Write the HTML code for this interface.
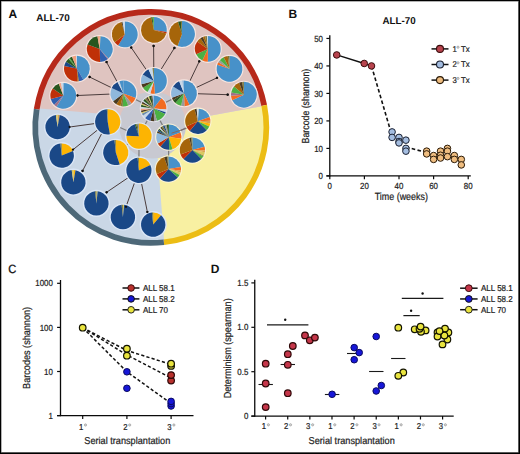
<!DOCTYPE html><html><head><meta charset="utf-8"><style>html,body{margin:0;padding:0;background:#fff;}svg{display:block;}text{font-family:"Liberation Sans",sans-serif;text-rendering:geometricPrecision;}text.r{stroke:#222;stroke-width:0.22px;}</style></head><body>
<svg width="520" height="454" viewBox="0 0 520 454">
<rect x="0" y="0" width="520" height="454" fill="#fff"/>
<defs><clipPath id="inner"><circle cx="150.8" cy="127.4" r="113.3"/></clipPath></defs>
<g clip-path="url(#inner)">
<rect x="0" y="0" width="300" height="260" fill="#cad7e6"/>
<polygon points="182.6,120.75 300,99.20 300,260 165.60,260 154.85,120.75" fill="#f8f0a2"/>
<polygon points="0,105.23 182.6,120.75 300,99.20 300,0 0,0" fill="#dfc4c0"/>
</g>
<circle cx="152.5" cy="125" r="33.5" fill="#c8c9d1"/>
<path d="M36.67,109.32A115.55000000000001,115.55000000000001 0 0 1 264.23,105.35" fill="none" stroke="#b7291a" stroke-width="5.7"/>
<path d="M264.23,105.35A115.55000000000001,115.55000000000001 0 0 1 163.88,242.21" fill="none" stroke="#ecbd14" stroke-width="5.7"/>
<path d="M163.88,242.21A115.55000000000001,115.55000000000001 0 0 1 36.67,109.32" fill="none" stroke="#4d6878" stroke-width="5.7"/>
<line x1="123.4" y1="93.5" x2="106.5" y2="62.0" stroke="#4a3c3c" stroke-width="1.0"/>
<circle cx="106.5" cy="62.0" r="1.15" fill="#111"/>
<line x1="123.4" y1="93.5" x2="89.6" y2="77.0" stroke="#4a3c3c" stroke-width="1.0"/>
<circle cx="89.6" cy="77.0" r="1.15" fill="#111"/>
<line x1="123.4" y1="93.5" x2="77.4" y2="95.5" stroke="#4a3c3c" stroke-width="1.0"/>
<circle cx="77.4" cy="95.5" r="1.15" fill="#111"/>
<line x1="153.9" y1="80.9" x2="131.2" y2="47.5" stroke="#4a3c3c" stroke-width="1.0"/>
<circle cx="131.2" cy="47.5" r="1.15" fill="#111"/>
<line x1="153.9" y1="80.9" x2="153.6" y2="46.0" stroke="#4a3c3c" stroke-width="1.0"/>
<circle cx="153.6" cy="46.0" r="1.15" fill="#111"/>
<line x1="153.9" y1="80.9" x2="174.4" y2="48.0" stroke="#4a3c3c" stroke-width="1.0"/>
<circle cx="174.4" cy="48.0" r="1.15" fill="#111"/>
<line x1="184.0" y1="93.3" x2="199.3" y2="61.3" stroke="#4a3c3c" stroke-width="1.0"/>
<circle cx="199.3" cy="61.3" r="1.15" fill="#111"/>
<line x1="184.0" y1="93.3" x2="217.0" y2="77.8" stroke="#4a3c3c" stroke-width="1.0"/>
<circle cx="217.0" cy="77.8" r="1.15" fill="#111"/>
<line x1="184.0" y1="93.3" x2="227.7" y2="94.7" stroke="#4a3c3c" stroke-width="1.0"/>
<circle cx="227.7" cy="94.7" r="1.15" fill="#111"/>
<line x1="107.7" y1="121.8" x2="69.7" y2="127.0" stroke="#4a3c3c" stroke-width="1.0"/>
<circle cx="69.7" cy="127.0" r="1.15" fill="#111"/>
<line x1="107.7" y1="121.8" x2="73.0" y2="149.7" stroke="#4a3c3c" stroke-width="1.0"/>
<circle cx="73.0" cy="149.7" r="1.15" fill="#111"/>
<line x1="107.7" y1="121.8" x2="82.5" y2="171.0" stroke="#4a3c3c" stroke-width="1.0"/>
<circle cx="82.5" cy="171.0" r="1.15" fill="#111"/>
<line x1="138.9" y1="170.4" x2="106.6" y2="192.3" stroke="#4a3c3c" stroke-width="1.0"/>
<circle cx="106.6" cy="192.3" r="1.15" fill="#111"/>
<line x1="138.9" y1="170.4" x2="126.0" y2="206.8" stroke="#4a3c3c" stroke-width="1.0"/>
<circle cx="126.0" cy="206.8" r="1.15" fill="#111"/>
<line x1="138.9" y1="170.4" x2="147.4" y2="212.1" stroke="#4a3c3c" stroke-width="1.0"/>
<circle cx="147.4" cy="212.1" r="1.15" fill="#111"/>
<line x1="153.6" y1="108.4" x2="123.4" y2="93.5" stroke="#7d7d7d" stroke-width="1.2"/>
<line x1="153.6" y1="108.4" x2="153.9" y2="80.9" stroke="#7d7d7d" stroke-width="1.2"/>
<line x1="153.6" y1="108.4" x2="184.0" y2="93.3" stroke="#7d7d7d" stroke-width="1.2"/>
<line x1="139.0" y1="136.2" x2="107.7" y2="121.8" stroke="#7d7d7d" stroke-width="1.2"/>
<line x1="139.0" y1="136.2" x2="115.8" y2="152.5" stroke="#7d7d7d" stroke-width="1.2"/>
<line x1="139.0" y1="136.2" x2="138.9" y2="170.4" stroke="#7d7d7d" stroke-width="1.2"/>
<line x1="168.8" y1="137.1" x2="197.8" y2="121.3" stroke="#7d7d7d" stroke-width="1.2"/>
<line x1="168.8" y1="137.1" x2="192.4" y2="150.1" stroke="#7d7d7d" stroke-width="1.2"/>
<line x1="168.8" y1="137.1" x2="168.4" y2="169.1" stroke="#7d7d7d" stroke-width="1.2"/>
<line x1="153.6" y1="108.4" x2="139.0" y2="136.2" stroke="#7d7d7d" stroke-width="1.2"/>
<line x1="153.6" y1="108.4" x2="168.8" y2="137.1" stroke="#7d7d7d" stroke-width="1.2"/>
<circle cx="63.3" cy="95.8" r="14.0" fill="#f6e6e2"/>
<path d="M63.30,95.80L63.30,82.90A12.9,12.9 0 1 1 56.46,106.74Z" fill="#4791c9"/>
<path d="M63.30,95.80L56.46,106.74A12.9,12.9 0 0 1 54.02,104.76Z" fill="#a07088"/>
<path d="M63.30,95.80L54.02,104.76A12.9,12.9 0 0 1 50.78,98.92Z" fill="#2f5fae"/>
<path d="M63.30,95.80L50.78,98.92A12.9,12.9 0 0 1 52.73,88.40Z" fill="#bf3008"/>
<path d="M63.30,95.80L52.73,88.40A12.9,12.9 0 0 1 58.89,83.68Z" fill="#28561f"/>
<path d="M63.30,95.80L58.89,83.68A12.9,12.9 0 0 1 61.06,83.10Z" fill="#f0a080"/>
<path d="M63.30,95.80L61.06,83.10A12.9,12.9 0 0 1 63.30,82.90Z" fill="#c8d8e8"/>
<circle cx="76.9" cy="68.6" r="14.0" fill="#f6e6e2"/>
<path d="M76.90,68.60L76.90,55.70A12.9,12.9 0 0 1 83.35,79.77Z" fill="#4791c9"/>
<path d="M76.90,68.60L83.35,79.77A12.9,12.9 0 0 1 78.70,81.37Z" fill="#2f5fae"/>
<path d="M76.90,68.60L78.70,81.37A12.9,12.9 0 0 1 77.35,81.49Z" fill="#a6650a"/>
<path d="M76.90,68.60L77.35,81.49A12.9,12.9 0 0 1 64.28,65.92Z" fill="#bf3008"/>
<path d="M76.90,68.60L64.28,65.92A12.9,12.9 0 0 1 65.96,61.76Z" fill="#1a4887"/>
<path d="M76.90,68.60L65.96,61.76A12.9,12.9 0 0 1 68.61,58.72Z" fill="#28561f"/>
<path d="M76.90,68.60L68.61,58.72A12.9,12.9 0 0 1 69.69,57.91Z" fill="#4bb043"/>
<path d="M76.90,68.60L69.69,57.91A12.9,12.9 0 0 1 72.07,56.64Z" fill="#28561f"/>
<path d="M76.90,68.60L72.07,56.64A12.9,12.9 0 0 1 76.00,55.73Z" fill="#f0a080"/>
<path d="M76.90,68.60L76.00,55.73A12.9,12.9 0 0 1 76.90,55.70Z" fill="#c8d8e8"/>
<circle cx="99.7" cy="49.0" r="14.0" fill="#f6e6e2"/>
<path d="M99.70,49.00L99.70,36.10A12.9,12.9 0 0 1 100.60,36.13Z" fill="#d9a34f"/>
<path d="M99.70,49.00L100.60,36.13A12.9,12.9 0 0 1 108.33,58.59Z" fill="#4791c9"/>
<path d="M99.70,49.00L108.33,58.59A12.9,12.9 0 0 1 107.64,59.17Z" fill="#a07088"/>
<path d="M99.70,49.00L107.64,59.17A12.9,12.9 0 0 1 100.15,61.89Z" fill="#2f5fae"/>
<path d="M99.70,49.00L100.15,61.89A12.9,12.9 0 0 1 87.58,44.59Z" fill="#bf3008"/>
<path d="M99.70,49.00L87.58,44.59A12.9,12.9 0 0 1 97.46,36.30Z" fill="#28561f"/>
<path d="M99.70,49.00L97.46,36.30A12.9,12.9 0 0 1 99.70,36.10Z" fill="#f0a080"/>
<circle cx="124.8" cy="34.4" r="14.0" fill="#f6e6e2"/>
<path d="M124.80,34.40L124.80,21.50A12.9,12.9 0 1 1 118.16,45.46Z" fill="#4791c9"/>
<path d="M124.80,34.40L118.16,45.46A12.9,12.9 0 0 1 114.63,42.34Z" fill="#bf3008"/>
<path d="M124.80,34.40L114.63,42.34A12.9,12.9 0 0 1 121.46,21.94Z" fill="#a6650a"/>
<path d="M124.80,34.40L121.46,21.94A12.9,12.9 0 0 1 122.56,21.70Z" fill="#4a3a20"/>
<path d="M124.80,34.40L122.56,21.70A12.9,12.9 0 0 1 124.80,21.50Z" fill="#c8d8e8"/>
<circle cx="153.9" cy="29.9" r="14.0" fill="#f6e6e2"/>
<path d="M153.90,29.90L153.90,17.00A12.9,12.9 0 0 1 166.64,31.92Z" fill="#4791c9"/>
<path d="M153.90,29.90L166.64,31.92A12.9,12.9 0 0 1 166.30,33.46Z" fill="#bf3008"/>
<path d="M153.90,29.90L166.30,33.46A12.9,12.9 0 1 1 151.22,17.28Z" fill="#a6650a"/>
<path d="M153.90,29.90L151.22,17.28A12.9,12.9 0 0 1 152.55,17.07Z" fill="#28561f"/>
<path d="M153.90,29.90L152.55,17.07A12.9,12.9 0 0 1 153.90,17.00Z" fill="#4bb043"/>
<circle cx="182.0" cy="34.0" r="14.0" fill="#f6e6e2"/>
<path d="M182.00,34.00L182.00,21.10A12.9,12.9 0 1 1 177.59,46.12Z" fill="#4791c9"/>
<path d="M182.00,34.00L177.59,46.12A12.9,12.9 0 0 1 178.01,21.73Z" fill="#a6650a"/>
<path d="M182.00,34.00L178.01,21.73A12.9,12.9 0 0 1 180.88,21.15Z" fill="#28561f"/>
<path d="M182.00,34.00L180.88,21.15A12.9,12.9 0 0 1 182.00,21.10Z" fill="#7a7838"/>
<circle cx="207.8" cy="48.9" r="14.0" fill="#f6e6e2"/>
<path d="M207.80,48.90L207.80,36.00A12.9,12.9 0 0 1 207.80,61.80Z" fill="#4791c9"/>
<path d="M207.80,48.90L207.80,61.80A12.9,12.9 0 0 1 202.35,60.59Z" fill="#f26b21"/>
<path d="M207.80,48.90L202.35,60.59A12.9,12.9 0 0 1 196.11,54.35Z" fill="#4bb043"/>
<path d="M207.80,48.90L196.11,54.35A12.9,12.9 0 0 1 197.23,41.50Z" fill="#bf3008"/>
<path d="M207.80,48.90L197.23,41.50A12.9,12.9 0 0 1 200.40,38.33Z" fill="#a6650a"/>
<path d="M207.80,48.90L200.40,38.33A12.9,12.9 0 0 1 202.97,36.94Z" fill="#4a3a20"/>
<path d="M207.80,48.90L202.97,36.94A12.9,12.9 0 0 1 205.12,36.28Z" fill="#a6650a"/>
<path d="M207.80,48.90L205.12,36.28A12.9,12.9 0 0 1 206.90,36.03Z" fill="#7a7838"/>
<path d="M207.80,48.90L206.90,36.03A12.9,12.9 0 0 1 207.80,36.00Z" fill="#c8d8e8"/>
<circle cx="229.5" cy="68.8" r="14.0" fill="#f6e6e2"/>
<path d="M229.50,68.80L229.50,55.90A12.9,12.9 0 1 1 217.23,64.81Z" fill="#4791c9"/>
<path d="M229.50,68.80L217.23,64.81A12.9,12.9 0 0 1 218.33,62.35Z" fill="#f26b21"/>
<path d="M229.50,68.80L218.33,62.35A12.9,12.9 0 0 1 219.91,60.17Z" fill="#9a9a9a"/>
<path d="M229.50,68.80L219.91,60.17A12.9,12.9 0 0 1 223.64,57.31Z" fill="#4bb043"/>
<path d="M229.50,68.80L223.64,57.31A12.9,12.9 0 0 1 227.70,56.03Z" fill="#a6650a"/>
<path d="M229.50,68.80L227.70,56.03A12.9,12.9 0 0 1 229.50,55.90Z" fill="#7a7838"/>
<circle cx="243.9" cy="94.7" r="14.0" fill="#f6e6e2"/>
<path d="M243.90,94.70L243.90,81.80A12.9,12.9 0 1 1 232.21,100.15Z" fill="#4791c9"/>
<path d="M243.90,94.70L232.21,100.15A12.9,12.9 0 0 1 231.05,95.82Z" fill="#f26b21"/>
<path d="M243.90,94.70L231.05,95.82A12.9,12.9 0 0 1 231.20,92.46Z" fill="#a07088"/>
<path d="M243.90,94.70L231.20,92.46A12.9,12.9 0 0 1 234.02,86.41Z" fill="#4bb043"/>
<path d="M243.90,94.70L234.02,86.41A12.9,12.9 0 0 1 239.07,82.74Z" fill="#a6650a"/>
<path d="M243.90,94.70L239.07,82.74A12.9,12.9 0 0 1 242.33,81.90Z" fill="#4a3a20"/>
<path d="M243.90,94.70L242.33,81.90A12.9,12.9 0 0 1 243.90,81.80Z" fill="#7a7838"/>
<circle cx="123.4" cy="93.5" r="14.0" fill="#f6e6e2"/>
<path d="M123.40,93.50L123.40,80.60A12.9,12.9 0 0 1 135.52,97.91Z" fill="#4791c9"/>
<path d="M123.40,93.50L135.52,97.91A12.9,12.9 0 0 1 131.69,103.38Z" fill="#f26b21"/>
<path d="M123.40,93.50L131.69,103.38A12.9,12.9 0 0 1 128.23,105.46Z" fill="#9a9a9a"/>
<path d="M123.40,93.50L128.23,105.46A12.9,12.9 0 0 1 122.72,106.38Z" fill="#4bb043"/>
<path d="M123.40,93.50L122.72,106.38A12.9,12.9 0 0 1 120.50,106.07Z" fill="#7a7838"/>
<path d="M123.40,93.50L120.50,106.07A12.9,12.9 0 0 1 116.37,104.32Z" fill="#a6650a"/>
<path d="M123.40,93.50L116.37,104.32A12.9,12.9 0 0 1 113.10,101.26Z" fill="#4a3a20"/>
<path d="M123.40,93.50L113.10,101.26A12.9,12.9 0 0 1 111.71,88.05Z" fill="#8fb8dc"/>
<path d="M123.40,93.50L111.71,88.05A12.9,12.9 0 0 1 117.54,82.01Z" fill="#1a4887"/>
<path d="M123.40,93.50L117.54,82.01A12.9,12.9 0 0 1 119.41,81.23Z" fill="#c8d8e8"/>
<path d="M123.40,93.50L119.41,81.23A12.9,12.9 0 0 1 123.40,80.60Z" fill="#4791c9"/>
<circle cx="153.9" cy="80.9" r="14.0" fill="#f6e6e2"/>
<path d="M153.90,80.90L153.90,68.00A12.9,12.9 0 0 1 154.80,93.77Z" fill="#4791c9"/>
<path d="M153.90,80.90L154.80,93.77A12.9,12.9 0 0 1 150.34,93.30Z" fill="#f26b21"/>
<path d="M153.90,80.90L150.34,93.30A12.9,12.9 0 0 1 147.45,92.07Z" fill="#c8d8e8"/>
<path d="M153.90,80.90L147.45,92.07A12.9,12.9 0 0 1 142.96,87.74Z" fill="#4bb043"/>
<path d="M153.90,80.90L142.96,87.74A12.9,12.9 0 0 1 141.44,84.24Z" fill="#4a3a20"/>
<path d="M153.90,80.90L141.44,84.24A12.9,12.9 0 0 1 142.73,74.45Z" fill="#8fb8dc"/>
<path d="M153.90,80.90L142.73,74.45A12.9,12.9 0 0 1 148.45,69.21Z" fill="#1a4887"/>
<path d="M153.90,80.90L148.45,69.21A12.9,12.9 0 0 1 152.55,68.07Z" fill="#c8d8e8"/>
<path d="M153.90,80.90L152.55,68.07A12.9,12.9 0 0 1 153.90,68.00Z" fill="#7a7838"/>
<circle cx="184.0" cy="93.3" r="14.0" fill="#f6e6e2"/>
<path d="M184.00,93.30L184.00,80.40A12.9,12.9 0 0 1 189.45,104.99Z" fill="#4791c9"/>
<path d="M184.00,93.30L189.45,104.99A12.9,12.9 0 0 1 184.45,106.19Z" fill="#f26b21"/>
<path d="M184.00,93.30L184.45,106.19A12.9,12.9 0 0 1 181.10,105.87Z" fill="#9a9a9a"/>
<path d="M184.00,93.30L181.10,105.87A12.9,12.9 0 0 1 175.37,102.89Z" fill="#4bb043"/>
<path d="M184.00,93.30L175.37,102.89A12.9,12.9 0 0 1 173.06,100.14Z" fill="#28561f"/>
<path d="M184.00,93.30L173.06,100.14A12.9,12.9 0 0 1 171.88,97.71Z" fill="#4a3a20"/>
<path d="M184.00,93.30L171.88,97.71A12.9,12.9 0 0 1 173.06,86.46Z" fill="#8fb8dc"/>
<path d="M184.00,93.30L173.06,86.46A12.9,12.9 0 0 1 179.17,81.34Z" fill="#1a4887"/>
<path d="M184.00,93.30L179.17,81.34A12.9,12.9 0 0 1 182.20,80.53Z" fill="#c8d8e8"/>
<path d="M184.00,93.30L182.20,80.53A12.9,12.9 0 0 1 184.00,80.40Z" fill="#8fb8dc"/>
<circle cx="153.6" cy="108.4" r="13.8" fill="#e4e4ec"/>
<path d="M153.60,108.40L153.60,95.60A12.8,12.8 0 0 1 161.48,98.31Z" fill="#4791c9"/>
<path d="M153.60,108.40L161.48,98.31A12.8,12.8 0 0 1 166.35,109.52Z" fill="#f26b21"/>
<path d="M153.60,108.40L166.35,109.52A12.8,12.8 0 0 1 165.77,112.36Z" fill="#c8d8e8"/>
<path d="M153.60,108.40L165.77,112.36A12.8,12.8 0 0 1 165.10,114.01Z" fill="#1a4887"/>
<path d="M153.60,108.40L165.10,114.01A12.8,12.8 0 0 1 156.91,120.76Z" fill="#4bb043"/>
<path d="M153.60,108.40L156.91,120.76A12.8,12.8 0 0 1 154.05,121.19Z" fill="#9a9a9a"/>
<path d="M153.60,108.40L154.05,121.19A12.8,12.8 0 0 1 150.29,120.76Z" fill="#4a3a20"/>
<path d="M153.60,108.40L150.29,120.76A12.8,12.8 0 0 1 145.04,117.91Z" fill="#2f5fae"/>
<path d="M153.60,108.40L145.04,117.91A12.8,12.8 0 0 1 142.99,115.56Z" fill="#c8d8e8"/>
<path d="M153.60,108.40L142.99,115.56A12.8,12.8 0 0 1 141.91,113.61Z" fill="#6a8cb0"/>
<path d="M153.60,108.40L141.91,113.61A12.8,12.8 0 0 1 141.43,112.36Z" fill="#d8c860"/>
<path d="M153.60,108.40L141.43,112.36A12.8,12.8 0 0 1 140.99,110.62Z" fill="#4a3a20"/>
<path d="M153.60,108.40L140.99,110.62A12.8,12.8 0 0 1 140.80,108.40Z" fill="#f0a080"/>
<path d="M153.60,108.40L140.80,108.40A12.8,12.8 0 0 1 140.90,106.84Z" fill="#c8d8e8"/>
<path d="M153.60,108.40L140.90,106.84A12.8,12.8 0 0 1 141.36,104.66Z" fill="#28561f"/>
<path d="M153.60,108.40L141.36,104.66A12.8,12.8 0 0 1 141.82,103.40Z" fill="#d8c860"/>
<path d="M153.60,108.40L141.82,103.40A12.8,12.8 0 0 1 142.63,101.81Z" fill="#4a3a20"/>
<path d="M153.60,108.40L142.63,101.81A12.8,12.8 0 0 1 143.38,100.70Z" fill="#c8d8e8"/>
<path d="M153.60,108.40L143.38,100.70A12.8,12.8 0 0 1 144.87,99.04Z" fill="#28561f"/>
<path d="M153.60,108.40L144.87,99.04A12.8,12.8 0 0 1 146.26,97.91Z" fill="#7a7838"/>
<path d="M153.60,108.40L146.26,97.91A12.8,12.8 0 0 1 147.79,97.00Z" fill="#4a3a20"/>
<path d="M153.60,108.40L147.79,97.00A12.8,12.8 0 0 1 149.01,96.45Z" fill="#d8c860"/>
<path d="M153.60,108.40L149.01,96.45A12.8,12.8 0 0 1 151.16,95.84Z" fill="#28561f"/>
<path d="M153.60,108.40L151.16,95.84A12.8,12.8 0 0 1 152.48,95.65Z" fill="#4a3a20"/>
<path d="M153.60,108.40L152.48,95.65A12.8,12.8 0 0 1 153.60,95.60Z" fill="#8fb8dc"/>
<circle cx="107.7" cy="121.8" r="13.799999999999999" fill="#dfe8f5"/>
<path d="M107.70,121.80L107.70,109.20A12.6,12.6 0 0 1 109.89,134.21Z" fill="#fdb402"/>
<path d="M107.70,121.80L109.89,134.21A12.6,12.6 0 1 1 106.82,109.23Z" fill="#1a4887"/>
<path d="M107.70,121.80L106.82,109.23A12.6,12.6 0 0 1 107.70,109.20Z" fill="#7a7838"/>
<circle cx="139.0" cy="136.2" r="13.799999999999999" fill="#dfe8f5"/>
<path d="M139.00,136.20L139.00,123.60A12.6,12.6 0 1 1 126.41,135.76Z" fill="#fdb402"/>
<path d="M139.00,136.20L126.41,135.76A12.6,12.6 0 0 1 134.69,124.36Z" fill="#1a4887"/>
<path d="M139.00,136.20L134.69,124.36A12.6,12.6 0 0 1 136.17,123.92Z" fill="#28561f"/>
<path d="M139.00,136.20L136.17,123.92A12.6,12.6 0 0 1 137.68,123.67Z" fill="#7a7838"/>
<path d="M139.00,136.20L137.68,123.67A12.6,12.6 0 0 1 139.00,123.60Z" fill="#9a9a9a"/>
<circle cx="115.8" cy="152.5" r="13.799999999999999" fill="#dfe8f5"/>
<path d="M115.80,152.50L115.80,139.90A12.6,12.6 0 0 1 119.69,164.48Z" fill="#fdb402"/>
<path d="M115.80,152.50L119.69,164.48A12.6,12.6 0 1 1 114.48,139.97Z" fill="#1a4887"/>
<path d="M115.80,152.50L114.48,139.97A12.6,12.6 0 0 1 115.80,139.90Z" fill="#7a7838"/>
<circle cx="138.9" cy="170.4" r="13.799999999999999" fill="#dfe8f5"/>
<path d="M138.90,170.40L138.90,157.80A12.6,12.6 0 0 1 150.32,165.08Z" fill="#fdb402"/>
<path d="M138.90,170.40L150.32,165.08A12.6,12.6 0 1 1 137.58,157.87Z" fill="#1a4887"/>
<path d="M138.90,170.40L137.58,157.87A12.6,12.6 0 0 1 138.90,157.80Z" fill="#7a7838"/>
<circle cx="57.6" cy="127.0" r="13.6" fill="#dbe6f6"/>
<path d="M57.60,127.00L57.60,114.80A12.2,12.2 0 0 1 59.72,114.99Z" fill="#d9a34f"/>
<path d="M57.60,127.00L59.72,114.99A12.2,12.2 0 1 1 55.90,114.92Z" fill="#1a4887"/>
<path d="M57.60,127.00L55.90,114.92A12.2,12.2 0 0 1 57.60,114.80Z" fill="#d8c860"/>
<circle cx="61.7" cy="155.6" r="13.6" fill="#dbe6f6"/>
<path d="M61.70,155.60L61.70,143.40A12.2,12.2 0 0 1 73.01,151.03Z" fill="#fdb402"/>
<path d="M61.70,155.60L73.01,151.03A12.2,12.2 0 1 1 60.42,143.47Z" fill="#1a4887"/>
<path d="M61.70,155.60L60.42,143.47A12.2,12.2 0 0 1 61.70,143.40Z" fill="#7a7838"/>
<circle cx="73.4" cy="182.2" r="13.6" fill="#dbe6f6"/>
<path d="M73.40,182.20L73.40,170.00A12.2,12.2 0 0 1 75.52,170.19Z" fill="#fdb402"/>
<path d="M73.40,182.20L75.52,170.19A12.2,12.2 0 1 1 71.70,170.12Z" fill="#1a4887"/>
<path d="M73.40,182.20L71.70,170.12A12.2,12.2 0 0 1 73.40,170.00Z" fill="#d8c860"/>
<circle cx="96.4" cy="203.4" r="13.6" fill="#dbe6f6"/>
<path d="M96.40,203.40L96.40,191.20A12.2,12.2 0 0 1 97.68,191.27Z" fill="#d8c860"/>
<path d="M96.40,203.40L97.68,191.27A12.2,12.2 0 1 1 95.12,191.27Z" fill="#1a4887"/>
<path d="M96.40,203.40L95.12,191.27A12.2,12.2 0 0 1 96.40,191.20Z" fill="#7a7838"/>
<circle cx="122.9" cy="217.0" r="13.6" fill="#dbe6f6"/>
<path d="M122.90,217.00L122.90,204.80A12.2,12.2 0 0 1 124.18,204.87Z" fill="#d8c860"/>
<path d="M122.90,217.00L124.18,204.87A12.2,12.2 0 1 1 121.62,204.87Z" fill="#1a4887"/>
<path d="M122.90,217.00L121.62,204.87A12.2,12.2 0 0 1 122.90,204.80Z" fill="#7a7838"/>
<circle cx="153.2" cy="224.6" r="13.6" fill="#dbe6f6"/>
<path d="M153.20,224.60L153.20,212.40A12.2,12.2 0 0 1 161.04,215.25Z" fill="#fdb402"/>
<path d="M153.20,224.60L161.04,215.25A12.2,12.2 0 1 1 151.92,212.47Z" fill="#1a4887"/>
<path d="M153.20,224.60L151.92,212.47A12.2,12.2 0 0 1 153.20,212.40Z" fill="#7a7838"/>
<circle cx="168.8" cy="137.1" r="13.7" fill="#fbf3d8"/>
<path d="M168.80,137.10L168.80,124.50A12.6,12.6 0 0 1 180.48,132.38Z" fill="#4791c9"/>
<path d="M168.80,137.10L180.48,132.38A12.6,12.6 0 0 1 181.28,138.85Z" fill="#f26b21"/>
<path d="M168.80,137.10L181.28,138.85A12.6,12.6 0 0 1 172.48,149.15Z" fill="#fdb402"/>
<path d="M168.80,137.10L172.48,149.15A12.6,12.6 0 0 1 169.24,149.69Z" fill="#4bb043"/>
<path d="M168.80,137.10L169.24,149.69A12.6,12.6 0 0 1 160.37,146.46Z" fill="#1a4887"/>
<path d="M168.80,137.10L160.37,146.46A12.6,12.6 0 0 1 157.89,143.40Z" fill="#bf3008"/>
<path d="M168.80,137.10L157.89,143.40A12.6,12.6 0 0 1 156.96,132.79Z" fill="#8fb8dc"/>
<path d="M168.80,137.10L156.96,132.79A12.6,12.6 0 0 1 157.67,131.18Z" fill="#4a3a20"/>
<path d="M168.80,137.10L157.67,131.18A12.6,12.6 0 0 1 158.48,129.87Z" fill="#1a4887"/>
<path d="M168.80,137.10L158.48,129.87A12.6,12.6 0 0 1 159.44,128.67Z" fill="#28561f"/>
<path d="M168.80,137.10L159.44,128.67A12.6,12.6 0 0 1 160.37,127.74Z" fill="#c8d8e8"/>
<path d="M168.80,137.10L160.37,127.74A12.6,12.6 0 0 1 161.57,126.78Z" fill="#4a3a20"/>
<path d="M168.80,137.10L161.57,126.78A12.6,12.6 0 0 1 162.88,125.97Z" fill="#7a7838"/>
<path d="M168.80,137.10L162.88,125.97A12.6,12.6 0 0 1 164.49,125.26Z" fill="#1a4887"/>
<path d="M168.80,137.10L164.49,125.26A12.6,12.6 0 0 1 166.61,124.69Z" fill="#9a9a9a"/>
<path d="M168.80,137.10L166.61,124.69A12.6,12.6 0 0 1 168.80,124.50Z" fill="#28561f"/>
<circle cx="197.8" cy="121.3" r="13.7" fill="#fbf3d8"/>
<path d="M197.80,121.30L197.80,108.70A12.6,12.6 0 0 1 198.90,108.75Z" fill="#c8d8e8"/>
<path d="M197.80,121.30L198.90,108.75A12.6,12.6 0 0 1 209.64,116.99Z" fill="#4791c9"/>
<path d="M197.80,121.30L209.64,116.99A12.6,12.6 0 0 1 210.39,120.86Z" fill="#f26b21"/>
<path d="M197.80,121.30L210.39,120.86A12.6,12.6 0 0 1 210.21,123.49Z" fill="#d9a34f"/>
<path d="M197.80,121.30L210.21,123.49A12.6,12.6 0 0 1 209.22,126.62Z" fill="#fdb402"/>
<path d="M197.80,121.30L209.22,126.62A12.6,12.6 0 0 1 206.71,130.21Z" fill="#4bb043"/>
<path d="M197.80,121.30L206.71,130.21A12.6,12.6 0 0 1 189.70,130.95Z" fill="#1a4887"/>
<path d="M197.80,121.30L189.70,130.95A12.6,12.6 0 0 1 186.38,126.62Z" fill="#bf3008"/>
<path d="M197.80,121.30L186.38,126.62A12.6,12.6 0 0 1 194.54,109.13Z" fill="#a6650a"/>
<path d="M197.80,121.30L194.54,109.13A12.6,12.6 0 0 1 196.70,108.75Z" fill="#4a3a20"/>
<path d="M197.80,121.30L196.70,108.75A12.6,12.6 0 0 1 197.80,108.70Z" fill="#c8d8e8"/>
<circle cx="192.4" cy="150.1" r="13.7" fill="#fbf3d8"/>
<path d="M192.40,150.10L192.40,137.50A12.6,12.6 0 0 1 204.57,146.84Z" fill="#4791c9"/>
<path d="M192.40,150.10L204.57,146.84A12.6,12.6 0 0 1 204.99,150.54Z" fill="#f26b21"/>
<path d="M192.40,150.10L204.99,150.54A12.6,12.6 0 0 1 204.81,152.29Z" fill="#d9a34f"/>
<path d="M192.40,150.10L204.81,152.29A12.6,12.6 0 0 1 203.53,156.02Z" fill="#d8c860"/>
<path d="M192.40,150.10L203.53,156.02A12.6,12.6 0 0 1 203.20,156.59Z" fill="#4a3a20"/>
<path d="M192.40,150.10L203.20,156.59A12.6,12.6 0 0 1 201.31,159.01Z" fill="#4bb043"/>
<path d="M192.40,150.10L201.31,159.01A12.6,12.6 0 0 1 183.49,159.01Z" fill="#1a4887"/>
<path d="M192.40,150.10L183.49,159.01A12.6,12.6 0 0 1 180.56,154.41Z" fill="#bf3008"/>
<path d="M192.40,150.10L180.56,154.41A12.6,12.6 0 0 1 189.14,137.93Z" fill="#a6650a"/>
<path d="M192.40,150.10L189.14,137.93A12.6,12.6 0 0 1 191.30,137.55Z" fill="#4a3a20"/>
<path d="M192.40,150.10L191.30,137.55A12.6,12.6 0 0 1 192.40,137.50Z" fill="#7a7838"/>
<circle cx="168.4" cy="169.1" r="13.7" fill="#fbf3d8"/>
<path d="M168.40,169.10L168.40,156.50A12.6,12.6 0 0 1 180.81,166.91Z" fill="#4791c9"/>
<path d="M168.40,169.10L180.81,166.91A12.6,12.6 0 0 1 180.91,170.64Z" fill="#f26b21"/>
<path d="M168.40,169.10L180.91,170.64A12.6,12.6 0 0 1 180.51,172.57Z" fill="#d9a34f"/>
<path d="M168.40,169.10L180.51,172.57A12.6,12.6 0 0 1 179.53,175.02Z" fill="#d8c860"/>
<path d="M168.40,169.10L179.53,175.02A12.6,12.6 0 0 1 177.76,177.53Z" fill="#4bb043"/>
<path d="M168.40,169.10L177.76,177.53A12.6,12.6 0 0 1 159.97,178.46Z" fill="#1a4887"/>
<path d="M168.40,169.10L159.97,178.46A12.6,12.6 0 0 1 156.80,174.02Z" fill="#bf3008"/>
<path d="M168.40,169.10L156.80,174.02A12.6,12.6 0 0 1 164.09,157.26Z" fill="#a6650a"/>
<path d="M168.40,169.10L164.09,157.26A12.6,12.6 0 0 1 167.30,156.55Z" fill="#4a3a20"/>
<path d="M168.40,169.10L167.30,156.55A12.6,12.6 0 0 1 168.40,156.50Z" fill="#7a7838"/>
<line x1="171.5" y1="133.2" x2="186.5" y2="128.4" stroke="#7a6a6a" stroke-width="1.0"/>
<circle cx="106.5" cy="62.0" r="1.15" fill="#111"/>
<circle cx="89.6" cy="77.0" r="1.15" fill="#111"/>
<circle cx="77.4" cy="95.5" r="1.15" fill="#111"/>
<circle cx="131.2" cy="47.5" r="1.15" fill="#111"/>
<circle cx="153.6" cy="46.0" r="1.15" fill="#111"/>
<circle cx="174.4" cy="48.0" r="1.15" fill="#111"/>
<circle cx="199.3" cy="61.3" r="1.15" fill="#111"/>
<circle cx="217.0" cy="77.8" r="1.15" fill="#111"/>
<circle cx="227.7" cy="94.7" r="1.15" fill="#111"/>
<circle cx="69.7" cy="127.0" r="1.15" fill="#111"/>
<circle cx="73.0" cy="149.7" r="1.15" fill="#111"/>
<circle cx="82.5" cy="171.0" r="1.15" fill="#111"/>
<circle cx="106.6" cy="192.3" r="1.15" fill="#111"/>
<circle cx="126.0" cy="206.8" r="1.15" fill="#111"/>
<circle cx="147.4" cy="212.1" r="1.15" fill="#111"/>
<text x="8.4" y="17.6" font-size="12" font-weight="bold" fill="#111">A</text>
<text x="36.3" y="20.6" font-size="9.8" font-weight="bold" fill="#111" textLength="33.6" lengthAdjust="spacingAndGlyphs">ALL-70</text>
<text x="288.6" y="17.8" font-size="12" font-weight="bold" fill="#111">B</text>
<text x="382.5" y="24.1" font-size="10" font-weight="bold" fill="#111" textLength="33.2" lengthAdjust="spacingAndGlyphs">ALL-70</text>
<line x1="329.8" y1="35.2" x2="329.8" y2="176.5" stroke="#0a0a0a" stroke-width="1.3"/>
<line x1="326.40000000000003" y1="175.9" x2="470.80000000000007" y2="175.9" stroke="#0a0a0a" stroke-width="1.3"/>
<line x1="326.40000000000003" y1="175.9" x2="329.8" y2="175.9" stroke="#0a0a0a" stroke-width="1.2"/>
<text class="r" x="323.00" y="179.00" font-size="8.8" text-anchor="end" fill="#1e1e1e" textLength="4.40" lengthAdjust="spacingAndGlyphs">0</text>
<line x1="326.40000000000003" y1="148.41" x2="329.8" y2="148.41" stroke="#0a0a0a" stroke-width="1.2"/>
<text class="r" x="323.00" y="151.51" font-size="8.8" text-anchor="end" fill="#1e1e1e" textLength="8.81" lengthAdjust="spacingAndGlyphs">10</text>
<line x1="326.40000000000003" y1="120.92" x2="329.8" y2="120.92" stroke="#0a0a0a" stroke-width="1.2"/>
<text class="r" x="323.00" y="124.02" font-size="8.8" text-anchor="end" fill="#1e1e1e" textLength="8.81" lengthAdjust="spacingAndGlyphs">20</text>
<line x1="326.40000000000003" y1="93.43" x2="329.8" y2="93.43" stroke="#0a0a0a" stroke-width="1.2"/>
<text class="r" x="323.00" y="96.53" font-size="8.8" text-anchor="end" fill="#1e1e1e" textLength="8.81" lengthAdjust="spacingAndGlyphs">30</text>
<line x1="326.40000000000003" y1="65.94" x2="329.8" y2="65.94" stroke="#0a0a0a" stroke-width="1.2"/>
<text class="r" x="323.00" y="69.04" font-size="8.8" text-anchor="end" fill="#1e1e1e" textLength="8.81" lengthAdjust="spacingAndGlyphs">40</text>
<line x1="326.40000000000003" y1="38.44999999999999" x2="329.8" y2="38.44999999999999" stroke="#0a0a0a" stroke-width="1.2"/>
<text class="r" x="323.00" y="41.55" font-size="8.8" text-anchor="end" fill="#1e1e1e" textLength="8.81" lengthAdjust="spacingAndGlyphs">50</text>
<line x1="329.8" y1="175.9" x2="329.8" y2="179.3" stroke="#0a0a0a" stroke-width="1.2"/>
<text class="r" x="329.80" y="188.70" font-size="8.8" text-anchor="middle" fill="#1e1e1e" textLength="4.40" lengthAdjust="spacingAndGlyphs">0</text>
<line x1="364.40000000000003" y1="175.9" x2="364.40000000000003" y2="179.3" stroke="#0a0a0a" stroke-width="1.2"/>
<text class="r" x="364.40" y="188.70" font-size="8.8" text-anchor="middle" fill="#1e1e1e" textLength="8.81" lengthAdjust="spacingAndGlyphs">20</text>
<line x1="399.0" y1="175.9" x2="399.0" y2="179.3" stroke="#0a0a0a" stroke-width="1.2"/>
<text class="r" x="399.00" y="188.70" font-size="8.8" text-anchor="middle" fill="#1e1e1e" textLength="8.81" lengthAdjust="spacingAndGlyphs">40</text>
<line x1="433.6" y1="175.9" x2="433.6" y2="179.3" stroke="#0a0a0a" stroke-width="1.2"/>
<text class="r" x="433.60" y="188.70" font-size="8.8" text-anchor="middle" fill="#1e1e1e" textLength="8.81" lengthAdjust="spacingAndGlyphs">60</text>
<line x1="468.20000000000005" y1="175.9" x2="468.20000000000005" y2="179.3" stroke="#0a0a0a" stroke-width="1.2"/>
<text class="r" x="468.20" y="188.70" font-size="8.8" text-anchor="middle" fill="#1e1e1e" textLength="8.81" lengthAdjust="spacingAndGlyphs">80</text>
<text class="r" x="374.7" y="200.2" font-size="10.4" fill="#1e1e1e" textLength="53.2" lengthAdjust="spacingAndGlyphs">Time (weeks)</text>
<text class="r" transform="translate(308.7,143.4) rotate(-90)" font-size="10.2" fill="#1e1e1e" textLength="74.6" lengthAdjust="spacingAndGlyphs">Barcode (shannon)</text>
<polyline points="336.72,54.94 364.23,63.47 371.49,65.94" fill="none" stroke="#111" stroke-width="1.4"/>
<line x1="371.5" y1="66" x2="390.6" y2="131" stroke="#111" stroke-width="1.6" stroke-dasharray="3.6 2.4"/>
<line x1="405.92" y1="147.0355" x2="426.68" y2="152.5335" stroke="#111" stroke-width="1.6" stroke-dasharray="3.6 2.4"/>
<circle cx="336.72" cy="54.94" r="3.3" fill="#b8444e" stroke="#3a0c0c" stroke-width="1.0"/>
<circle cx="364.23" cy="63.47" r="3.3" fill="#b8444e" stroke="#3a0c0c" stroke-width="1.0"/>
<circle cx="371.49" cy="65.94" r="3.3" fill="#b8444e" stroke="#3a0c0c" stroke-width="1.0"/>
<circle cx="392.08" cy="131.92" r="3.3" fill="#a4bde0" stroke="#1a2030" stroke-width="1.0"/>
<circle cx="392.08" cy="137.41" r="3.3" fill="#a4bde0" stroke="#1a2030" stroke-width="1.0"/>
<circle cx="399.00" cy="137.41" r="3.3" fill="#a4bde0" stroke="#1a2030" stroke-width="1.0"/>
<circle cx="399.00" cy="141.54" r="3.3" fill="#a4bde0" stroke="#1a2030" stroke-width="1.0"/>
<circle cx="399.00" cy="142.91" r="3.3" fill="#a4bde0" stroke="#1a2030" stroke-width="1.0"/>
<circle cx="405.92" cy="140.16" r="3.3" fill="#a4bde0" stroke="#1a2030" stroke-width="1.0"/>
<circle cx="405.92" cy="148.41" r="3.3" fill="#a4bde0" stroke="#1a2030" stroke-width="1.0"/>
<circle cx="405.92" cy="151.16" r="3.3" fill="#a4bde0" stroke="#1a2030" stroke-width="1.0"/>
<circle cx="426.68" cy="151.16" r="3.3" fill="#efbd80" stroke="#2a1a08" stroke-width="1.0"/>
<circle cx="426.68" cy="153.91" r="3.3" fill="#efbd80" stroke="#2a1a08" stroke-width="1.0"/>
<circle cx="433.60" cy="155.56" r="3.3" fill="#efbd80" stroke="#2a1a08" stroke-width="1.0"/>
<circle cx="433.60" cy="159.41" r="3.3" fill="#efbd80" stroke="#2a1a08" stroke-width="1.0"/>
<circle cx="440.52" cy="151.16" r="3.3" fill="#efbd80" stroke="#2a1a08" stroke-width="1.0"/>
<circle cx="440.52" cy="155.28" r="3.3" fill="#efbd80" stroke="#2a1a08" stroke-width="1.0"/>
<circle cx="440.52" cy="158.03" r="3.3" fill="#efbd80" stroke="#2a1a08" stroke-width="1.0"/>
<circle cx="447.44" cy="148.41" r="3.3" fill="#efbd80" stroke="#2a1a08" stroke-width="1.0"/>
<circle cx="447.44" cy="151.16" r="3.3" fill="#efbd80" stroke="#2a1a08" stroke-width="1.0"/>
<circle cx="447.44" cy="156.66" r="3.3" fill="#efbd80" stroke="#2a1a08" stroke-width="1.0"/>
<circle cx="454.36" cy="155.56" r="3.3" fill="#efbd80" stroke="#2a1a08" stroke-width="1.0"/>
<circle cx="454.36" cy="159.41" r="3.3" fill="#efbd80" stroke="#2a1a08" stroke-width="1.0"/>
<circle cx="461.28" cy="159.41" r="3.3" fill="#efbd80" stroke="#2a1a08" stroke-width="1.0"/>
<circle cx="461.28" cy="164.90" r="3.3" fill="#efbd80" stroke="#2a1a08" stroke-width="1.0"/>
<line x1="431.5" y1="48.9" x2="448.5" y2="48.9" stroke="#111" stroke-width="1.5"/>
<circle cx="440.00" cy="48.90" r="3.5" fill="#b8444e" stroke="#3a0c0c" stroke-width="1.1"/>
<text class="r" x="452.60" y="51.80" font-size="8.4" fill="#1e1e1e" textLength="4.34" lengthAdjust="spacingAndGlyphs">1</text>
<circle cx="458.0" cy="47.199999999999996" r="1.1" fill="#d8d8d8" stroke="#a0a0a0" stroke-width="0.8"/>
<text class="r" x="460.90" y="51.80" font-size="8.4" fill="#1e1e1e" textLength="8.68" lengthAdjust="spacingAndGlyphs">Tx</text>
<line x1="431.5" y1="64.5" x2="448.5" y2="64.5" stroke="#111" stroke-width="1.5"/>
<circle cx="440.00" cy="64.50" r="3.5" fill="#a4bde0" stroke="#1a2030" stroke-width="1.1"/>
<text class="r" x="452.60" y="67.40" font-size="8.4" fill="#1e1e1e" textLength="4.34" lengthAdjust="spacingAndGlyphs">2</text>
<circle cx="458.0" cy="62.8" r="1.1" fill="#d8d8d8" stroke="#a0a0a0" stroke-width="0.8"/>
<text class="r" x="460.90" y="67.40" font-size="8.4" fill="#1e1e1e" textLength="8.68" lengthAdjust="spacingAndGlyphs">Tx</text>
<line x1="431.5" y1="80.1" x2="448.5" y2="80.1" stroke="#111" stroke-width="1.5"/>
<circle cx="440.00" cy="80.10" r="3.5" fill="#efbd80" stroke="#2a1a08" stroke-width="1.1"/>
<text class="r" x="452.60" y="83.00" font-size="8.4" fill="#1e1e1e" textLength="4.34" lengthAdjust="spacingAndGlyphs">3</text>
<circle cx="458.0" cy="78.39999999999999" r="1.1" fill="#d8d8d8" stroke="#a0a0a0" stroke-width="0.8"/>
<text class="r" x="460.90" y="83.00" font-size="8.4" fill="#1e1e1e" textLength="8.68" lengthAdjust="spacingAndGlyphs">Tx</text>
<text x="8.2" y="272.9" font-size="12" fill="#111" stroke="#111" stroke-width="0.3" textLength="8.0" lengthAdjust="spacingAndGlyphs">C</text>
<line x1="60.5" y1="280.0" x2="60.5" y2="416.20000000000005" stroke="#0a0a0a" stroke-width="1.3"/>
<line x1="57.1" y1="415.6" x2="193.5" y2="415.6" stroke="#0a0a0a" stroke-width="1.3"/>
<line x1="57.1" y1="415.6" x2="60.5" y2="415.6" stroke="#0a0a0a" stroke-width="1.2"/>
<text class="r" x="52.90" y="418.70" font-size="8.8" text-anchor="end" fill="#1e1e1e" textLength="4.40" lengthAdjust="spacingAndGlyphs">1</text>
<line x1="57.1" y1="371.5" x2="60.5" y2="371.5" stroke="#0a0a0a" stroke-width="1.2"/>
<text class="r" x="52.90" y="374.60" font-size="8.8" text-anchor="end" fill="#1e1e1e" textLength="8.81" lengthAdjust="spacingAndGlyphs">10</text>
<line x1="57.1" y1="327.40000000000003" x2="60.5" y2="327.40000000000003" stroke="#0a0a0a" stroke-width="1.2"/>
<text class="r" x="52.90" y="330.50" font-size="8.8" text-anchor="end" fill="#1e1e1e" textLength="13.21" lengthAdjust="spacingAndGlyphs">100</text>
<line x1="57.1" y1="283.3" x2="60.5" y2="283.3" stroke="#0a0a0a" stroke-width="1.2"/>
<text class="r" x="52.90" y="286.40" font-size="8.8" text-anchor="end" fill="#1e1e1e" textLength="17.62" lengthAdjust="spacingAndGlyphs">1000</text>
<line x1="82.7" y1="415.6" x2="82.7" y2="419.0" stroke="#0a0a0a" stroke-width="1.2"/>
<text class="r" x="81.10" y="429.60" font-size="8.6" text-anchor="middle" fill="#1e1e1e" textLength="4.30" lengthAdjust="spacingAndGlyphs">1</text>
<circle cx="85.5" cy="425.0" r="1.1" fill="#d8d8d8" stroke="#a0a0a0" stroke-width="0.8"/>
<line x1="126.9" y1="415.6" x2="126.9" y2="419.0" stroke="#0a0a0a" stroke-width="1.2"/>
<text class="r" x="125.30" y="429.60" font-size="8.6" text-anchor="middle" fill="#1e1e1e" textLength="4.30" lengthAdjust="spacingAndGlyphs">2</text>
<circle cx="129.70000000000002" cy="425.0" r="1.1" fill="#d8d8d8" stroke="#a0a0a0" stroke-width="0.8"/>
<line x1="171.1" y1="415.6" x2="171.1" y2="419.0" stroke="#0a0a0a" stroke-width="1.2"/>
<text class="r" x="169.50" y="429.60" font-size="8.6" text-anchor="middle" fill="#1e1e1e" textLength="4.30" lengthAdjust="spacingAndGlyphs">3</text>
<circle cx="173.9" cy="425.0" r="1.1" fill="#d8d8d8" stroke="#a0a0a0" stroke-width="0.8"/>
<text class="r" x="84.3" y="443.7" font-size="10" fill="#1e1e1e" textLength="86.0" lengthAdjust="spacingAndGlyphs">Serial transplantation</text>
<text class="r" transform="translate(29.5,388.9) rotate(-90)" font-size="10.2" fill="#1e1e1e" textLength="82.0" lengthAdjust="spacingAndGlyphs">Barcodes (shannon)</text>
<polyline points="82.7,327.7 126.9,350.5 171.1,364.5" fill="none" stroke="#111" stroke-width="1.5" stroke-dasharray="3.2 2.2"/>
<polyline points="82.7,327.7 126.9,355.0 171.1,378.0" fill="none" stroke="#111" stroke-width="1.5" stroke-dasharray="3.2 2.2"/>
<polyline points="82.7,327.7 126.9,371.8 171.1,403.5" fill="none" stroke="#111" stroke-width="1.5" stroke-dasharray="3.2 2.2"/>
<circle cx="82.70" cy="327.70" r="3.3" fill="#e9e43e" stroke="#141400" stroke-width="1.2"/>
<circle cx="126.90" cy="388.30" r="3.3" fill="#1616d8" stroke="#0a0a60" stroke-width="1.0"/>
<circle cx="126.90" cy="371.80" r="3.3" fill="#1616d8" stroke="#0a0a60" stroke-width="1.0"/>
<circle cx="126.90" cy="355.70" r="3.3" fill="#e9e43e" stroke="#141400" stroke-width="1.2"/>
<circle cx="126.90" cy="348.70" r="3.3" fill="#e9e43e" stroke="#141400" stroke-width="1.2"/>
<circle cx="171.10" cy="406.00" r="3.3" fill="#1616d8" stroke="#0a0a60" stroke-width="1.0"/>
<circle cx="171.10" cy="403.60" r="3.3" fill="#1616d8" stroke="#0a0a60" stroke-width="1.0"/>
<circle cx="171.10" cy="401.40" r="3.3" fill="#1616d8" stroke="#0a0a60" stroke-width="1.0"/>
<circle cx="171.10" cy="380.60" r="3.3" fill="#b8302c" stroke="#300808" stroke-width="1.2"/>
<circle cx="171.10" cy="375.10" r="3.3" fill="#b8302c" stroke="#300808" stroke-width="1.2"/>
<circle cx="171.10" cy="365.90" r="3.3" fill="#e9e43e" stroke="#141400" stroke-width="1.2"/>
<circle cx="171.10" cy="363.70" r="3.3" fill="#e9e43e" stroke="#141400" stroke-width="1.2"/>
<line x1="122.5" y1="288.0" x2="139.4" y2="288.0" stroke="#111" stroke-width="1.5"/>
<circle cx="131.10" cy="288.00" r="3.3" fill="#b8302c" stroke="#3a0c0c" stroke-width="1.0"/>
<text class="r" x="142.90" y="291.00" font-size="8.6" fill="#1e1e1e" textLength="31.72" lengthAdjust="spacingAndGlyphs">ALL 58.1</text>
<line x1="122.5" y1="298.9" x2="139.4" y2="298.9" stroke="#111" stroke-width="1.5"/>
<circle cx="131.10" cy="298.90" r="3.3" fill="#1616d8" stroke="#111" stroke-width="1.0"/>
<text class="r" x="142.90" y="301.90" font-size="8.6" fill="#1e1e1e" textLength="31.72" lengthAdjust="spacingAndGlyphs">ALL 58.2</text>
<line x1="122.5" y1="309.8" x2="139.4" y2="309.8" stroke="#111" stroke-width="1.5"/>
<circle cx="131.10" cy="309.80" r="3.3" fill="#e9e43e" stroke="#222" stroke-width="1.0"/>
<text class="r" x="142.90" y="312.80" font-size="8.6" fill="#1e1e1e" textLength="25.05" lengthAdjust="spacingAndGlyphs">ALL 70</text>
<text x="210.8" y="272.7" font-size="12" font-weight="bold" fill="#111">D</text>
<line x1="254.75" y1="279.8" x2="254.75" y2="416.70000000000005" stroke="#0a0a0a" stroke-width="1.3"/>
<line x1="251.35" y1="416.1" x2="453.7" y2="416.1" stroke="#0a0a0a" stroke-width="1.3"/>
<line x1="251.35" y1="416.1" x2="254.75" y2="416.1" stroke="#0a0a0a" stroke-width="1.2"/>
<text class="r" x="248.30" y="419.20" font-size="8.8" text-anchor="end" fill="#1e1e1e" textLength="4.40" lengthAdjust="spacingAndGlyphs">0</text>
<line x1="251.35" y1="371.70000000000005" x2="254.75" y2="371.70000000000005" stroke="#0a0a0a" stroke-width="1.2"/>
<text class="r" x="248.30" y="374.80" font-size="8.8" text-anchor="end" fill="#1e1e1e" textLength="11.01" lengthAdjust="spacingAndGlyphs">0.5</text>
<line x1="251.35" y1="327.3" x2="254.75" y2="327.3" stroke="#0a0a0a" stroke-width="1.2"/>
<text class="r" x="248.30" y="330.40" font-size="8.8" text-anchor="end" fill="#1e1e1e" textLength="11.01" lengthAdjust="spacingAndGlyphs">1.0</text>
<line x1="251.35" y1="282.90000000000003" x2="254.75" y2="282.90000000000003" stroke="#0a0a0a" stroke-width="1.2"/>
<text class="r" x="248.30" y="286.00" font-size="8.8" text-anchor="end" fill="#1e1e1e" textLength="11.01" lengthAdjust="spacingAndGlyphs">1.5</text>
<line x1="265.6" y1="416.1" x2="265.6" y2="419.5" stroke="#0a0a0a" stroke-width="1.2"/>
<text class="r" x="264.00" y="429.40" font-size="8.6" text-anchor="middle" fill="#1e1e1e" textLength="4.30" lengthAdjust="spacingAndGlyphs">1</text>
<circle cx="268.40000000000003" cy="424.79999999999995" r="1.1" fill="#d8d8d8" stroke="#a0a0a0" stroke-width="0.8"/>
<line x1="287.725" y1="416.1" x2="287.725" y2="419.5" stroke="#0a0a0a" stroke-width="1.2"/>
<text class="r" x="286.12" y="429.40" font-size="8.6" text-anchor="middle" fill="#1e1e1e" textLength="4.30" lengthAdjust="spacingAndGlyphs">2</text>
<circle cx="290.52500000000003" cy="424.79999999999995" r="1.1" fill="#d8d8d8" stroke="#a0a0a0" stroke-width="0.8"/>
<line x1="309.85" y1="416.1" x2="309.85" y2="419.5" stroke="#0a0a0a" stroke-width="1.2"/>
<text class="r" x="308.25" y="429.40" font-size="8.6" text-anchor="middle" fill="#1e1e1e" textLength="4.30" lengthAdjust="spacingAndGlyphs">3</text>
<circle cx="312.65000000000003" cy="424.79999999999995" r="1.1" fill="#d8d8d8" stroke="#a0a0a0" stroke-width="0.8"/>
<line x1="331.975" y1="416.1" x2="331.975" y2="419.5" stroke="#0a0a0a" stroke-width="1.2"/>
<text class="r" x="330.38" y="429.40" font-size="8.6" text-anchor="middle" fill="#1e1e1e" textLength="4.30" lengthAdjust="spacingAndGlyphs">1</text>
<circle cx="334.77500000000003" cy="424.79999999999995" r="1.1" fill="#d8d8d8" stroke="#a0a0a0" stroke-width="0.8"/>
<line x1="354.1" y1="416.1" x2="354.1" y2="419.5" stroke="#0a0a0a" stroke-width="1.2"/>
<text class="r" x="352.50" y="429.40" font-size="8.6" text-anchor="middle" fill="#1e1e1e" textLength="4.30" lengthAdjust="spacingAndGlyphs">2</text>
<circle cx="356.90000000000003" cy="424.79999999999995" r="1.1" fill="#d8d8d8" stroke="#a0a0a0" stroke-width="0.8"/>
<line x1="376.225" y1="416.1" x2="376.225" y2="419.5" stroke="#0a0a0a" stroke-width="1.2"/>
<text class="r" x="374.62" y="429.40" font-size="8.6" text-anchor="middle" fill="#1e1e1e" textLength="4.30" lengthAdjust="spacingAndGlyphs">3</text>
<circle cx="379.02500000000003" cy="424.79999999999995" r="1.1" fill="#d8d8d8" stroke="#a0a0a0" stroke-width="0.8"/>
<line x1="398.35" y1="416.1" x2="398.35" y2="419.5" stroke="#0a0a0a" stroke-width="1.2"/>
<text class="r" x="396.75" y="429.40" font-size="8.6" text-anchor="middle" fill="#1e1e1e" textLength="4.30" lengthAdjust="spacingAndGlyphs">1</text>
<circle cx="401.15000000000003" cy="424.79999999999995" r="1.1" fill="#d8d8d8" stroke="#a0a0a0" stroke-width="0.8"/>
<line x1="420.475" y1="416.1" x2="420.475" y2="419.5" stroke="#0a0a0a" stroke-width="1.2"/>
<text class="r" x="418.88" y="429.40" font-size="8.6" text-anchor="middle" fill="#1e1e1e" textLength="4.30" lengthAdjust="spacingAndGlyphs">2</text>
<circle cx="423.27500000000003" cy="424.79999999999995" r="1.1" fill="#d8d8d8" stroke="#a0a0a0" stroke-width="0.8"/>
<line x1="442.6" y1="416.1" x2="442.6" y2="419.5" stroke="#0a0a0a" stroke-width="1.2"/>
<text class="r" x="441.00" y="429.40" font-size="8.6" text-anchor="middle" fill="#1e1e1e" textLength="4.30" lengthAdjust="spacingAndGlyphs">3</text>
<circle cx="445.40000000000003" cy="424.79999999999995" r="1.1" fill="#d8d8d8" stroke="#a0a0a0" stroke-width="0.8"/>
<text class="r" x="308.6" y="443.5" font-size="10" fill="#1e1e1e" textLength="86.2" lengthAdjust="spacingAndGlyphs">Serial transplantation</text>
<text class="r" transform="translate(231.1,398.3) rotate(-90)" font-size="10.2" fill="#1e1e1e" textLength="100.0" lengthAdjust="spacingAndGlyphs">Determinism (spearman)</text>
<line x1="267.0" y1="324.8" x2="308.4" y2="324.8" stroke="#1a1a1a" stroke-width="1.25"/>
<circle cx="285.2" cy="319.7" r="1.2" fill="#111"/>
<line x1="401.8" y1="298.4" x2="443.4" y2="298.4" stroke="#1a1a1a" stroke-width="1.25"/>
<circle cx="422.6" cy="293.5" r="1.2" fill="#111"/>
<line x1="403.4" y1="315.6" x2="419.7" y2="315.6" stroke="#1a1a1a" stroke-width="1.25"/>
<circle cx="411.1" cy="310.7" r="1.2" fill="#111"/>
<line x1="258.5" y1="384.5" x2="272.9" y2="384.5" stroke="#1a1a1a" stroke-width="1.1"/>
<line x1="280.6" y1="364.5" x2="295.0" y2="364.5" stroke="#1a1a1a" stroke-width="1.1"/>
<line x1="302.8" y1="337.5" x2="317.2" y2="337.5" stroke="#1a1a1a" stroke-width="1.1"/>
<line x1="324.90000000000003" y1="394.5" x2="339.3" y2="394.5" stroke="#1a1a1a" stroke-width="1.1"/>
<line x1="347.0" y1="353.5" x2="361.4" y2="353.5" stroke="#1a1a1a" stroke-width="1.1"/>
<line x1="369.1" y1="371.5" x2="383.5" y2="371.5" stroke="#1a1a1a" stroke-width="1.1"/>
<line x1="391.1" y1="358.5" x2="405.5" y2="358.5" stroke="#1a1a1a" stroke-width="1.1"/>
<line x1="413.40000000000003" y1="328.5" x2="427.8" y2="328.5" stroke="#1a1a1a" stroke-width="1.1"/>
<line x1="435.5" y1="332.5" x2="449.9" y2="332.5" stroke="#1a1a1a" stroke-width="1.1"/>
<circle cx="265.70" cy="363.70" r="3.3" fill="#c5364a" stroke="#300808" stroke-width="1.2"/>
<circle cx="265.70" cy="383.50" r="3.3" fill="#c5364a" stroke="#300808" stroke-width="1.2"/>
<circle cx="265.70" cy="407.10" r="3.3" fill="#c5364a" stroke="#300808" stroke-width="1.2"/>
<circle cx="287.80" cy="354.20" r="3.3" fill="#c5364a" stroke="#300808" stroke-width="1.2"/>
<circle cx="292.80" cy="346.00" r="3.3" fill="#c5364a" stroke="#300808" stroke-width="1.2"/>
<circle cx="287.80" cy="364.80" r="3.3" fill="#c5364a" stroke="#300808" stroke-width="1.2"/>
<circle cx="287.80" cy="393.20" r="3.3" fill="#c5364a" stroke="#300808" stroke-width="1.2"/>
<circle cx="305.00" cy="335.40" r="3.3" fill="#c5364a" stroke="#300808" stroke-width="1.2"/>
<circle cx="309.80" cy="340.30" r="3.3" fill="#c5364a" stroke="#300808" stroke-width="1.2"/>
<circle cx="314.90" cy="337.60" r="3.3" fill="#c5364a" stroke="#300808" stroke-width="1.2"/>
<circle cx="332.10" cy="394.30" r="3.3" fill="#1616d8" stroke="#0a0a60" stroke-width="1.0"/>
<circle cx="354.20" cy="347.60" r="3.3" fill="#1616d8" stroke="#0a0a60" stroke-width="1.0"/>
<circle cx="359.20" cy="352.60" r="3.3" fill="#1616d8" stroke="#0a0a60" stroke-width="1.0"/>
<circle cx="354.20" cy="359.70" r="3.3" fill="#1616d8" stroke="#0a0a60" stroke-width="1.0"/>
<circle cx="376.20" cy="336.50" r="3.3" fill="#1616d8" stroke="#0a0a60" stroke-width="1.0"/>
<circle cx="381.30" cy="385.50" r="3.3" fill="#1616d8" stroke="#0a0a60" stroke-width="1.0"/>
<circle cx="376.20" cy="391.00" r="3.3" fill="#1616d8" stroke="#0a0a60" stroke-width="1.0"/>
<circle cx="398.30" cy="327.70" r="3.3" fill="#e9e43e" stroke="#141400" stroke-width="1.2"/>
<circle cx="403.30" cy="372.50" r="3.3" fill="#e9e43e" stroke="#141400" stroke-width="1.2"/>
<circle cx="398.30" cy="375.80" r="3.3" fill="#e9e43e" stroke="#141400" stroke-width="1.2"/>
<circle cx="414.70" cy="329.30" r="3.3" fill="#e9e43e" stroke="#141400" stroke-width="1.2"/>
<circle cx="425.60" cy="330.40" r="3.3" fill="#e9e43e" stroke="#141400" stroke-width="1.2"/>
<circle cx="421.00" cy="331.80" r="3.3" fill="#e9e43e" stroke="#141400" stroke-width="1.2"/>
<circle cx="419.50" cy="328.80" r="3.3" fill="#e9e43e" stroke="#141400" stroke-width="1.2"/>
<circle cx="420.60" cy="326.60" r="3.3" fill="#e9e43e" stroke="#141400" stroke-width="1.2"/>
<circle cx="437.50" cy="332.50" r="3.3" fill="#e9e43e" stroke="#141400" stroke-width="1.2"/>
<circle cx="437.50" cy="336.50" r="3.3" fill="#e9e43e" stroke="#141400" stroke-width="1.2"/>
<circle cx="448.40" cy="332.50" r="3.3" fill="#e9e43e" stroke="#141400" stroke-width="1.2"/>
<circle cx="445.00" cy="328.60" r="3.3" fill="#e9e43e" stroke="#141400" stroke-width="1.2"/>
<circle cx="447.40" cy="339.50" r="3.3" fill="#e9e43e" stroke="#141400" stroke-width="1.2"/>
<circle cx="442.50" cy="344.40" r="3.3" fill="#e9e43e" stroke="#141400" stroke-width="1.2"/>
<circle cx="444.40" cy="335.50" r="3.3" fill="#e9e43e" stroke="#141400" stroke-width="1.2"/>
<circle cx="439.50" cy="331.10" r="3.3" fill="#e9e43e" stroke="#141400" stroke-width="1.2"/>
<line x1="460.1" y1="288.2" x2="477.6" y2="288.2" stroke="#111" stroke-width="1.5"/>
<circle cx="468.80" cy="288.20" r="3.4" fill="#c5364a" stroke="#3a0c0c" stroke-width="1.0"/>
<text class="r" x="481.00" y="291.20" font-size="8.6" fill="#1e1e1e" textLength="31.72" lengthAdjust="spacingAndGlyphs">ALL 58.1</text>
<line x1="460.1" y1="298.95" x2="477.6" y2="298.95" stroke="#111" stroke-width="1.5"/>
<circle cx="468.80" cy="298.95" r="3.4" fill="#1616d8" stroke="#111" stroke-width="1.0"/>
<text class="r" x="481.00" y="301.95" font-size="8.6" fill="#1e1e1e" textLength="31.72" lengthAdjust="spacingAndGlyphs">ALL 58.2</text>
<line x1="460.1" y1="309.7" x2="477.6" y2="309.7" stroke="#111" stroke-width="1.5"/>
<circle cx="468.80" cy="309.70" r="3.4" fill="#e9e43e" stroke="#222" stroke-width="1.0"/>
<text class="r" x="481.00" y="312.70" font-size="8.6" fill="#1e1e1e" textLength="25.05" lengthAdjust="spacingAndGlyphs">ALL 70</text>
<rect x="0.5" y="0.5" width="518.5" height="452.5" fill="none" stroke="#000" stroke-width="1"/>
<rect x="1.3" y="1.3" width="517" height="451" fill="none" stroke="#000" stroke-width="0.6" stroke-opacity="0.5"/>
<line x1="519.5" y1="0" x2="519.5" y2="454" stroke="#000" stroke-width="1"/>
<line x1="0" y1="453.5" x2="520" y2="453.5" stroke="#000" stroke-width="1"/>
</svg></body></html>
